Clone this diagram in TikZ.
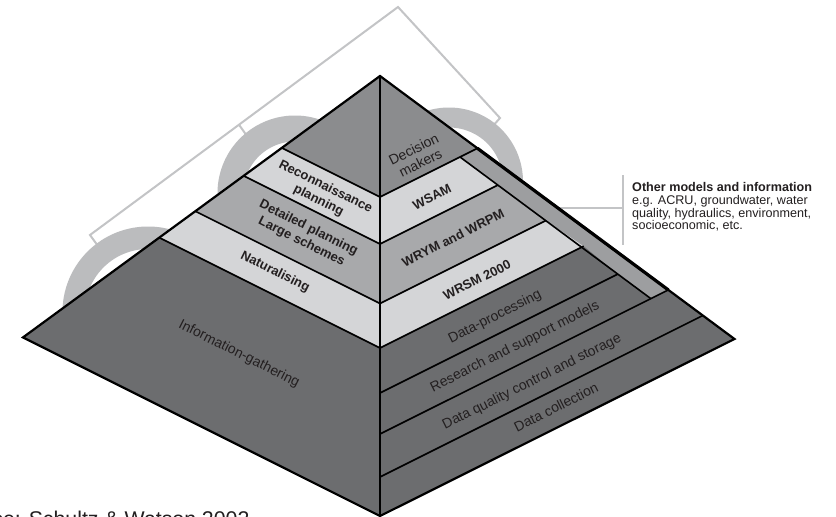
\documentclass[tikz,border=0pt]{standalone}
\usepackage{fontspec}
\setmainfont{Liberation Sans}
\usetikzlibrary{calc}
\definecolor{darkg}{HTML}{6C6D6F}
\definecolor{midg}{HTML}{8B8C8E}
\definecolor{medg}{HTML}{A8A9AB}
\definecolor{lightg}{HTML}{D4D5D7}
\definecolor{stripg}{HTML}{9D9EA0}
\definecolor{arcg}{HTML}{BBBCBE}
\definecolor{brk}{HTML}{C3C4C6}
\definecolor{txt}{HTML}{231F20}
\begin{document}
\begin{tikzpicture}[x=1pt,y=-1pt,
  edge/.style={draw=black,line width=2.2pt,line join=miter},
  inner/.style={draw=black,line width=1.6pt},
  lblb/.style={font=\fontsize{13}{15.5}\selectfont\bfseries,text=txt,align=center,inner sep=0pt},
  lblr/.style={font=\fontsize{14}{15.5}\selectfont,text=txt,align=center,inner sep=0pt},
  ring/.style={draw=arcg},
  bracket/.style={draw=brk,line width=2pt}]
\useasboundingbox (0,0) rectangle (836,517);
\clip (0,0) rectangle (836,517);
\fill[white] (0,0) rectangle (836,517);
% key points
\coordinate (A) at (380,76);
\coordinate (L) at (23,337.4);
\coordinate (R) at (734.5,339);
\coordinate (B) at (380,516);
\coordinate (c1) at (380,197);
\coordinate (c2) at (380,244);
\coordinate (c3) at (380,303.5);
\coordinate (c4) at (380,348);
\coordinate (c5) at (380,393);
\coordinate (c6) at (380,434);
\coordinate (c7) at (380,477);
\coordinate (l1) at (281.8,147.9);
\coordinate (l2) at (243.6,175.8);
\coordinate (l3) at (195.3,211.2);
\coordinate (l4) at (159.2,237.6);
\coordinate (r1) at (477.4,148.3);
\coordinate (r6) at (668.3,289.9);
\coordinate (r7) at (702.9,315.5);
\coordinate (s1) at (460,157);
\coordinate (s2) at (497.8,185.1);
\coordinate (s3) at (545.8,220.6);
\coordinate (s4) at (583.6,246.2);
\coordinate (s5) at (617.8,274.1);
\coordinate (s6) at (650.8,298.6);
% bracket
\coordinate (b0) at (98,246);
\coordinate (b1) at (90,235);
\coordinate (b2) at (398,7);
\coordinate (b3) at (500,118);
\coordinate (b4) at (492,127);
\coordinate (t0) at (239,124.7);
\coordinate (t1) at (247,136);
\draw[bracket] (b0) -- (b1) -- (b2) -- (b3) -- (b4);
\draw[bracket] (t0) -- (t1);
% rings
\draw[ring,line width=22.5pt] ($(148,312)+(170:74.25)$) arc[start angle=170,end angle=390,radius=74.25];
\draw[ring,line width=26pt] ($(295,193)+(150:64.5)$) arc[start angle=150,end angle=390,radius=64.5];
\draw[ring,line width=20pt] ($(449,181.5)+(240:64)$) arc[start angle=240,end angle=380,radius=64];
% other-models connector
\coordinate (o0) at (559,208);
\coordinate (o1) at (623,208);
\coordinate (o2) at (623,175);
\coordinate (o3) at (623,245);
\draw[bracket] (o0) -- (o1);
\draw[bracket] (o2) -- (o3);
% left face
\fill[midg] (A) -- (l1) -- (c1) -- cycle;
\fill[lightg] (l1) -- (l2) -- (c2) -- (c1) -- cycle;
\fill[medg] (l2) -- (l3) -- (c3) -- (c2) -- cycle;
\fill[lightg] (l3) -- (l4) -- (c4) -- (c3) -- cycle;
\fill[darkg] (l4) -- (L) -- (B) -- (c4) -- cycle;
% right face
\fill[midg] (A) -- (r1) -- (c1) -- cycle;
\fill[stripg] (r1) -- (r6) -- (s6) -- (s1) -- cycle;
\fill[lightg] (c1) -- (s1) -- (s2) -- (c2) -- cycle;
\fill[medg] (c2) -- (s2) -- (s3) -- (c3) -- cycle;
\fill[lightg] (c3) -- (s3) -- (s4) -- (c4) -- cycle;
\fill[darkg] (c4) -- (s4) -- (s5) -- (c5) -- cycle;
\fill[darkg] (c5) -- (s5) -- (s6) -- (c6) -- cycle;
\fill[darkg] (c6) -- (r6) -- (r7) -- (c7) -- cycle;
\fill[darkg] (c7) -- (r7) -- (R) -- (B) -- cycle;
% internal lines
\draw[inner] (l1) -- (c1) -- (r1);
\draw[inner] (l2) -- (c2) -- (s2);
\draw[inner] (l3) -- (c3) -- (s3);
\draw[inner] (l4) -- (c4) -- (s4);
\draw[inner] (c5) -- (s5);
\draw[inner] (c6) -- (r6);
\draw[inner] (c7) -- (r7);
\draw[inner] (s1) -- (s6);
\draw[edge] (A) -- (B);
\draw[edge] (A) -- (L) -- (B) -- (R) -- cycle;
\draw[draw=black,line width=3.2pt] (r1) -- (r6);
% labels left face
\node[lblb,rotate=-26.57] (recon) at (322,194) {Reconnaissance\\planning};
\node[lblb,rotate=-26.57] (detail) at (305,235) {Detailed planning\\Large schemes};
\node[lblb,rotate=-26.57] (natur) at (275,272) {Naturalising};
\node[lblr,rotate=-26.57] (info) at (239,354) {Information-gathering};
% labels right face
\node[lblr,rotate=26.57] (dec) at (417,156) {Decision\\makers};
\node[lblb,rotate=26.57] (wsam) at (432,197) {WSAM};
\node[lblb,rotate=26.57] (wrym) at (453,238) {WRYM and WRPM};
\node[lblb,rotate=26.57] (wrsm) at (477,280) {WRSM 2000};
\node[lblr,rotate=26.57] (dp) at (495,317) {Data-processing};
\node[lblr,rotate=26.57] (rsm) at (515,347) {Research and support models};
\node[lblr,rotate=26.57] (dq) at (532,382) {Data quality control and storage};
\node[lblr,rotate=26.57] (dc) at (556,407) {Data collection};
% side text
\node[anchor=north west,align=left,inner sep=0pt,text=txt,font=\fontsize{12.6}{12.7}\selectfont] (other) at (632,182.5)
  {\textbf{Other models and information}\\e.g. ACRU, groundwater, water\\quality, hydraulics, environment,\\socioeconomic, etc.};
% source
\node[anchor=base west,inner sep=0pt,text=txt,font=\fontsize{21.3}{24}\selectfont] (src) at (-52.7,526) {Source: Schultz \& Watson 2002};
\end{tikzpicture}
\end{document}
